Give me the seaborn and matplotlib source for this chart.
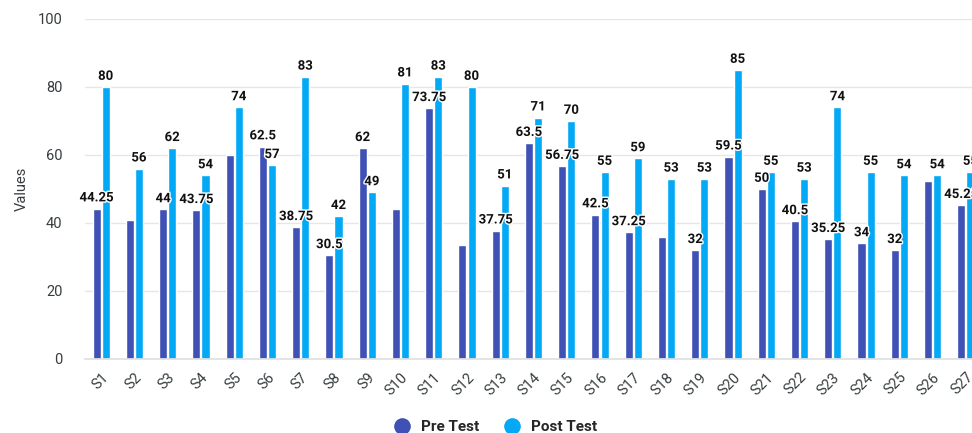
import pandas as pd
import matplotlib
matplotlib.use('Agg')
import matplotlib.pyplot as plt
import matplotlib.patheffects as pe
from matplotlib.lines import Line2D
import seaborn as sns

# Chart values
students = ['S' + str(i) for i in range(1, 28)]
pre_test = [44.25, 41, 44, 43.75, 60, 62.5, 38.75, 30.5, 62, 44,
            73.75, 33.5, 37.75, 63.5, 56.75, 42.5, 37.25, 36, 32, 59.5,
            50, 40.5, 35.25, 34, 32, 52.5, 45.25]
post_test = [80, 56, 62, 54, 74, 57, 83, 42, 49, 81,
             83, 80, 51, 71, 70, 55, 59, 53, 53, 85,
             55, 53, 74, 55, 54, 54, 55]
# pre-test labels the original chart hid because they collided with others
pre_hidden = ['S2', 'S5', 'S10', 'S12', 'S18', 'S26']

PRE_COLOR = '#3F51B5'
POST_COLOR = '#03A9F4'
TEXT_COLOR = '#373d3f'


def fmt(v):
    return f"{v:g}"


def main():
    df = pd.DataFrame({'Student': students, 'Pre Test': pre_test, 'Post Test': post_test})
    long_df = df.melt(id_vars='Student', var_name='Test', value_name='Values')

    sns.set_theme(style='white')
    plt.rcParams['font.family'] = ['Roboto', 'DejaVu Sans']

    fig = plt.figure(figsize=(9.72, 4.33), dpi=100)
    ax = fig.add_axes([84.5 / 972, 74 / 433, 898 / 972, 340 / 433])

    sns.barplot(data=long_df, x='Student', y='Values', hue='Test', order=students,
                hue_order=['Pre Test', 'Post Test'],
                palette={'Pre Test': PRE_COLOR, 'Post Test': POST_COLOR},
                saturation=1, width=0.55, gap=0.12, ax=ax, legend=False)

    # data labels
    label_style = dict(fontsize=9.5, fontweight='bold', color='#111111',
                       path_effects=[pe.withStroke(linewidth=2, foreground='white')])
    pre_labels = ['' if s in pre_hidden else fmt(v) for s, v in zip(students, pre_test)]
    post_labels = [fmt(v) for v in post_test]
    ax.bar_label(ax.containers[0], labels=pre_labels, padding=3, **label_style)
    ax.bar_label(ax.containers[1], labels=post_labels, padding=3, **label_style)

    ax.set_ylim(0, 100)
    ax.set_xlim(-0.5, 26.5)
    ax.set_yticks(range(0, 101, 20))
    ax.yaxis.grid(True, color='#e6e6e6', linewidth=1)
    ax.set_axisbelow(True)
    for side in ['top', 'right', 'left']:
        ax.spines[side].set_visible(False)
    ax.spines['bottom'].set_color('#e0e0e0')
    ax.tick_params(axis='both', length=0, colors=TEXT_COLOR, labelsize=10.5)
    ax.tick_params(axis='y', pad=16)
    ax.tick_params(axis='x', pad=8)
    plt.setp(ax.get_xticklabels(), rotation=45, ha='right', rotation_mode='anchor')
    ax.set_xlabel('')
    ax.set_ylabel('Values', fontsize=10.5, color=TEXT_COLOR)
    ax.yaxis.set_label_coords(-0.062, 0.5)

    handles = [
        Line2D([0], [0], marker='o', color='w', markerfacecolor=PRE_COLOR,
               markersize=13, label='Pre Test'),
        Line2D([0], [0], marker='o', color='w', markerfacecolor=POST_COLOR,
               markersize=13, label='Post Test'),
    ]
    fig.legend(handles=handles, loc='center', bbox_to_anchor=(495 / 972, 6 / 433),
               ncol=2, frameon=False, handlelength=1.2, handletextpad=0.6,
               columnspacing=1.6, prop={'weight': 'bold', 'size': 11})

    fig.savefig('out.png', dpi=100)
    plt.close(fig)


if __name__ == "__main__":
    main()
